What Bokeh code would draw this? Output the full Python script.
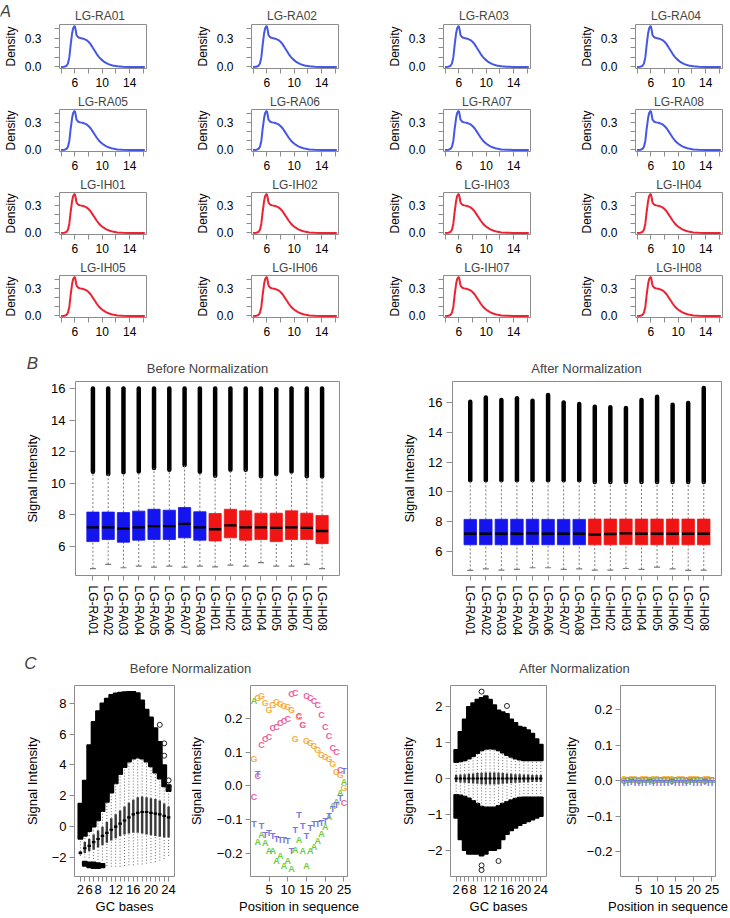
from bokeh.plotting import figure
from bokeh.layouts import column, row
from bokeh.models import FixedTicker, Label, Range1d
from bokeh.embed import file_html
from bokeh.resources import INLINE
from bokeh.core.properties import value

FONT = "Liberation Sans"
AXIS_GRAY = "#8c8c8c"
NAN = float("nan")

# ---------------- Panel A data ----------------
samples = ["LG-RA01", "LG-RA02", "LG-RA03", "LG-RA04", "LG-RA05", "LG-RA06", "LG-RA07", "LG-RA08",
           "LG-IH01", "LG-IH02", "LG-IH03", "LG-IH04", "LG-IH05", "LG-IH06", "LG-IH07", "LG-IH08"]
sample_group = ["RA"] * 8 + ["IH"] * 8
density_x = [4.0, 4.5, 4.8, 5.0, 5.2, 5.4, 5.6, 5.75, 5.9, 6.0, 6.1, 6.25, 6.5, 6.8, 7.1, 7.4, 7.7,
             8.0, 8.3, 8.6, 8.9, 9.2, 9.5, 9.8, 10.2, 10.6, 11.0, 11.5, 12.2, 13.0, 14.0, 15.0, 16.2]
density_y = [0.0, 0.002, 0.012, 0.035, 0.10, 0.235, 0.35, 0.405, 0.425, 0.432, 0.40, 0.335, 0.312,
             0.305, 0.30, 0.293, 0.283, 0.265, 0.24, 0.205, 0.17, 0.135, 0.105, 0.082, 0.058, 0.04,
             0.027, 0.015, 0.006, 0.002, 0.0, 0.0, 0.0]
density_colors = {"RA": "#4657e6", "IH": "#eb2332"}

# ---------------- Panel B data ----------------
box_colors = ["#1414ee"] * 8 + ["#f01414"] * 8
before_q1 = [6.30, 6.43, 6.26, 6.39, 6.43, 6.43, 6.54, 6.39, 6.34, 6.54, 6.39, 6.43, 6.30, 6.43, 6.43, 6.17]
before_med = [7.20, 7.20, 7.12, 7.20, 7.28, 7.28, 7.42, 7.20, 7.08, 7.33, 7.20, 7.20, 7.17, 7.20, 7.17, 6.97]
before_q3 = [8.17, 8.17, 8.14, 8.23, 8.35, 8.29, 8.46, 8.19, 8.08, 8.35, 8.25, 8.10, 8.10, 8.25, 8.10, 7.96]
before_wlo = [4.58, 4.86, 4.64, 4.75, 4.68, 4.75, 4.68, 4.75, 4.70, 4.81, 4.75, 4.97, 4.75, 4.75, 4.86, 4.58]
before_whi = [10.73, 10.59, 10.69, 10.75, 10.96, 10.86, 11.15, 10.73, 10.48, 10.86, 10.86, 10.44, 10.59, 10.75, 10.44, 10.42]
before_max = [16.0, 16.0, 16.0, 16.0, 16.0, 16.0, 16.0, 16.0, 16.0, 16.0, 16.0, 16.0, 15.96, 16.0, 16.0, 16.0]

after_q1 = [6.46, 6.46, 6.46, 6.46, 6.47, 6.46, 6.46, 6.46, 6.46, 6.46, 6.47, 6.46, 6.46, 6.46, 6.46, 6.46]
after_med = [7.20, 7.20, 7.20, 7.20, 7.22, 7.20, 7.20, 7.20, 7.14, 7.18, 7.22, 7.20, 7.20, 7.20, 7.20, 7.20]
after_q3 = [8.16, 8.16, 8.17, 8.17, 8.17, 8.16, 8.16, 8.16, 8.18, 8.18, 8.18, 8.18, 8.18, 8.18, 8.18, 8.18]
after_wlo = [4.74, 4.85, 4.76, 4.81, 4.92, 4.92, 4.81, 4.85, 4.76, 4.76, 4.87, 4.81, 4.96, 4.85, 4.74, 4.76]
after_whi = [10.78, 10.78, 10.78, 10.78, 10.78, 10.78, 10.78, 10.78, 10.67, 10.67, 10.67, 10.67, 10.67, 10.67, 10.67, 10.67]
after_max = [16.04, 16.33, 16.16, 16.27, 16.11, 16.49, 16.0, 15.89, 15.71, 15.67, 15.62, 16.16, 16.38, 15.84, 15.96, 16.96]

# ---------------- Panel C data: GC boxplots ----------------
gc_levels = [2, 4, 6, 7, 8, 9, 10, 11, 12, 13, 14, 15, 16, 17, 18, 19, 20, 21, 22, 23, 24]
gc_labelled = [2, 6, 8, 12, 16, 20, 24]

gcb_q1 = [-1.8, -1.7, -1.6, -1.5, -1.35, -1.2, -1.05, -0.9, -0.75, -0.6, -0.5, -0.45, -0.4, -0.4, -0.45, -0.5, -0.55, -0.6, -0.65, -0.7, -0.7]
gcb_med = [-1.7, -1.4, -1.25, -1.0, -0.8, -0.6, -0.4, -0.2, 0.0, 0.2, 0.4, 0.6, 0.8, 0.9, 0.95, 0.95, 0.9, 0.85, 0.8, 0.7, 0.6]
gcb_q3 = [-1.6, -1.0, -0.8, -0.5, -0.25, 0.0, 0.3, 0.55, 0.8, 1.05, 1.3, 1.55, 1.75, 1.9, 1.95, 1.9, 1.85, 1.8, 1.7, 1.5, 1.3]
gcb_wlo = [-1.9, -2.0, -2.05, -2.1, -2.15, -2.2, -2.55, -2.6, -2.6, -2.6, -2.55, -2.5, -2.5, -2.45, -2.45, -2.4, -2.35, -2.3, -2.2, -2.1, -1.9]
gcb_whi = [-0.8, -0.6, -0.3, 0.0, 0.4, 1.0, 1.6, 2.2, 2.8, 3.4, 3.85, 4.2, 4.4, 4.47, 4.4, 4.2, 3.9, 3.5, 3.1, 2.6, 2.3]
gcb_max = [1.5, 3.0, 5.3, 6.8, 7.5, 8.0, 8.3, 8.55, 8.65, 8.7, 8.73, 8.75, 8.75, 8.66, 8.2, 7.6, 7.1, 6.4, 5.5, 4.0, 2.7]
gcb_lo_top = [NAN, -2.25, -2.3, -2.3, -2.35, -2.4, NAN, NAN, NAN, NAN, NAN, NAN, NAN, NAN, NAN, NAN, NAN, NAN, NAN, NAN, NAN]
gcb_lo_bot = [NAN, -2.55, -2.65, -2.7, -2.7, -2.65, NAN, NAN, NAN, NAN, NAN, NAN, NAN, NAN, NAN, NAN, NAN, NAN, NAN, NAN, NAN]
gcb_iso_level = [22, 23, 23, 24, 24]
gcb_iso_val = [6.6, 5.4, 4.6, 3.0, 2.6]

gca_q1 = [-0.10, -0.11, -0.12, -0.13, -0.14, -0.15, -0.16, -0.17, -0.17, -0.17, -0.16, -0.15, -0.14, -0.13, -0.12, -0.12, -0.11, -0.11, -0.10, -0.10, -0.10]
gca_med = [0.0, 0.0, 0.0, 0.0, 0.0, 0.0, 0.0, 0.0, 0.0, 0.0, 0.0, 0.0, 0.0, 0.0, 0.0, 0.0, 0.0, 0.0, 0.0, 0.0, 0.0]
gca_q3 = [0.10, 0.11, 0.12, 0.13, 0.14, 0.15, 0.16, 0.17, 0.17, 0.17, 0.16, 0.15, 0.14, 0.13, 0.12, 0.12, 0.11, 0.11, 0.10, 0.10, 0.10]
gca_wlo = [-0.45, -0.47, -0.5, -0.55, -0.62, -0.7, -0.78, -0.8, -0.8, -0.8, -0.76, -0.7, -0.65, -0.6, -0.56, -0.53, -0.52, -0.52, -0.52, -0.52, -0.52]
gca_whi = [0.45, 0.47, 0.5, 0.55, 0.62, 0.7, 0.78, 0.82, 0.83, 0.82, 0.78, 0.72, 0.65, 0.6, 0.55, 0.52, 0.5, 0.5, 0.5, 0.5, 0.5]
gca_max = [0.8, 1.3, 1.65, 2.0, 2.1, 2.2, 2.25, 2.3, 2.2, 2.05, 1.9, 1.85, 1.8, 1.65, 1.55, 1.45, 1.42, 1.35, 1.25, 1.1, 0.95]
gca_min = [-1.1, -1.7, -2.0, -2.1, -2.1, -2.1, -2.15, -2.1, -2.0, -2.0, -1.95, -1.7, -1.55, -1.45, -1.38, -1.3, -1.25, -1.2, -1.15, -1.1, -1.05]
gca_iso_level = [10, 10, 10, 14, 16]
gca_iso_val = [2.42, -2.42, -2.55, -2.3, 2.02]

# ---------------- Panel C data: position in sequence ----------------
seq_pos = list(range(1, 26))
A_before = [0.253, -0.166, -0.145, -0.171, -0.192, -0.192, -0.222, -0.207, -0.238, -0.222, -0.248, -0.19, -0.161,
            -0.192, -0.237, -0.194, -0.182, -0.164, -0.143, -0.122, -0.092, -0.061, -0.049, -0.021, 0.013]
C_before = [-0.034, 0.03, 0.12, 0.14, 0.144, 0.171, 0.176, 0.186, 0.193, 0.20, 0.272, 0.277, 0.206, 0.181, 0.268,
            0.26, 0.252, 0.24, 0.211, 0.176, 0.147, 0.112, 0.102, 0.048, -0.051]
G_before = [0.079, 0.26, 0.268, 0.245, 0.226, 0.24, 0.248, 0.242, 0.236, 0.233, 0.226, 0.14, 0.205, 0.18, 0.132,
            0.127, 0.117, 0.107, 0.092, 0.087, 0.08, 0.065, 0.041, 0.033, -0.006]
T_before = [-0.112, 0.035, -0.12, -0.145, -0.141, -0.15, -0.157, -0.16, -0.16, -0.164, -0.192, -0.132, -0.085,
            -0.12, -0.15, -0.125, -0.112, -0.113, -0.11, -0.105, -0.09, -0.07, -0.056, -0.036, 0.043]
A_after = [0.002, 0.003, 0.001, 0.002, 0.003, 0.002, 0.001, 0.002, 0.003, 0.002, 0.002, 0.001, 0.002, 0.003,
           0.002, 0.002, 0.001, 0.003, 0.002, 0.002, 0.001, 0.002, 0.003, 0.002, 0.001]
C_after = [0.000, 0.001, 0.002, 0.001, 0.000, 0.001, 0.002, 0.001, 0.000, 0.001, 0.001, 0.002, 0.001, 0.000,
           0.001, 0.002, 0.001, 0.000, 0.001, 0.001, 0.002, 0.001, 0.000, 0.001, 0.002]
G_after = [0.004, 0.003, 0.004, 0.005, 0.003, 0.004, 0.004, 0.003, 0.005, 0.004, 0.003, 0.004, 0.004, 0.005,
           0.003, 0.004, 0.004, 0.003, 0.004, 0.005, 0.004, 0.003, 0.004, 0.004, 0.003]
T_after = [-0.006, -0.007, -0.005, -0.006, -0.008, -0.006, -0.007, -0.005, -0.006, -0.007, -0.006, -0.008,
           -0.006, -0.005, -0.007, -0.006, -0.006, -0.007, -0.005, -0.006, -0.007, -0.006, -0.005, -0.006, -0.007]
nuc_colors = {"A": "#6ccc3c", "C": "#ee5f9c", "G": "#f4b245", "T": "#7676e0"}

# ---------------- layout geometry (px) ----------------
A_WIDTHS = [192, 192, 192, 153]
A_LEFT = 53
A_FRAME = 93


def style(p, tick_fs, label_fs, tick_out, label_standoff, axis_label_standoff):
    p.outline_line_color = AXIS_GRAY
    p.outline_line_width = 1
    p.xgrid.grid_line_color = None
    p.ygrid.grid_line_color = None
    for ax in p.axis:
        ax.axis_line_color = None
        ax.major_tick_line_color = AXIS_GRAY
        ax.minor_tick_line_color = AXIS_GRAY
        ax.major_tick_out = tick_out
        ax.major_tick_in = 0
        ax.minor_tick_out = tick_out
        ax.minor_tick_in = 0
        ax.major_label_text_font = FONT
        ax.major_label_text_font_size = tick_fs
        ax.major_label_text_color = "black"
        ax.major_label_standoff = label_standoff
        ax.axis_label_text_font = FONT
        ax.axis_label_text_font_size = label_fs
        ax.axis_label_text_font_style = "normal"
        ax.axis_label_text_color = "black"
        ax.axis_label_standoff = axis_label_standoff


def strip_fig(width, height, items):
    s = figure(width=width, height=height, x_range=Range1d(0, width), y_range=Range1d(0, height),
               toolbar_location=None, output_backend="svg", min_border=0,
               x_axis_location=None, y_axis_location=None)
    s.outline_line_color = None
    s.xgrid.grid_line_color = None
    s.ygrid.grid_line_color = None
    for x, y, txt, fs, fstyle in items:
        s.add_layout(Label(x=x, y=y, text=txt, text_font=FONT, text_font_size=fs, text_font_style=fstyle,
                           text_align="center", text_baseline="middle"))
    return s


def density_fig(idx, width, with_title):
    kw = dict(title=samples[idx]) if with_title else {}
    p = figure(width=width, height=83 if with_title else 69,
               x_range=Range1d(3.77, 16.45), y_range=Range1d(-0.017, 0.447),
               toolbar_location=None, output_backend="svg",
               min_border_left=A_LEFT, min_border_right=width - A_LEFT - A_FRAME,
               min_border_top=16 if with_title else 2, min_border_bottom=23, **kw)
    p.line(density_x, density_y, line_color=density_colors[sample_group[idx]], line_width=2)
    p.xaxis.ticker = FixedTicker(ticks=[6, 10, 14], minor_ticks=[4, 8, 12, 16])
    p.yaxis.ticker = FixedTicker(ticks=[0, 0.3], minor_ticks=[0.1, 0.2, 0.4])
    p.yaxis.major_label_overrides = {0: "0.0", 0.3: "0.3"}
    p.yaxis.axis_label = "Density"
    style(p, "12px", "12px", 5, 13, 4)
    p.xaxis.major_label_standoff = 4
    if with_title:
        p.title.text_font = FONT
        p.title.text_font_size = "12px"
        p.title.text_font_style = "normal"
        p.title.align = "center"
        p.title.standoff = 2
    return p


# header strip for panel A (letter + first-row titles)
a_items = [(5, 11, "A", "17px", "italic")]
x0 = 0
for c in range(4):
    a_items.append((x0 + A_LEFT + A_FRAME / 2, 7, samples[c], "12px", "normal"))
    x0 += A_WIDTHS[c]
strip_a = strip_fig(sum(A_WIDTHS), 22, a_items)

a_rows = []
for r in range(4):
    figs = [density_fig(4 * r + c, A_WIDTHS[c], r > 0) for c in range(4)]
    a_rows.append(row(*figs))


def box_fig(q1, med, q3, wlo, whi, vmax, ylim, width, bl, br):
    pos = list(range(1, len(samples) + 1))
    p = figure(width=width, height=265, x_range=Range1d(-0.14, 17.14), y_range=Range1d(*ylim),
               toolbar_location=None, output_backend="svg",
               min_border_left=bl, min_border_right=br, min_border_top=3, min_border_bottom=68)
    p.segment(pos, whi, pos, vmax, line_color="black", line_width=4.5, line_cap="round")
    p.segment(pos, q3, pos, whi, line_color="#7a7a7a", line_dash="2 2", line_width=1)
    p.segment(pos, wlo, pos, q1, line_color="#7a7a7a", line_dash="2 2", line_width=1)
    p.scatter(pos, wlo, marker="dash", size=6, line_color="#7a7a7a", line_width=1.2)
    p.vbar(x=pos, width=0.8, bottom=q1, top=q3, fill_color=box_colors, line_color=box_colors, line_width=0.8)
    p.rect(x=pos, y=med, width=0.8, height=2.4, height_units="screen", fill_color="black", line_color=None)
    p.xaxis.ticker = FixedTicker(ticks=pos)
    p.xaxis.major_label_overrides = {i + 1: s for i, s in enumerate(samples)}
    p.xaxis.major_label_orientation = "vertical"
    p.yaxis.ticker = FixedTicker(ticks=[6, 8, 10, 12, 14, 16])
    p.yaxis.axis_label = "Signal Intensity"
    style(p, "13px", "13px", 6, 4, 8)
    p.xaxis.major_label_text_font_size = "12px"
    p.xaxis.major_tick_out = 5
    p.xaxis.major_label_standoff = 5
    return p


strip_b = strip_fig(729, 38, [(32, 15, "B", "17px", "italic"),
                              (207, 10, "Before Normalization", "13px", "normal"),
                              (586, 10, "After Normalization", "13px", "normal")])
b_left = box_fig(before_q1, before_med, before_q3, before_wlo, before_whi, before_max,
                 (4.15, 16.45), 382, 75, 43)
b_right = box_fig(after_q1, after_med, after_q3, after_wlo, after_whi, after_max,
                  (4.4, 17.4), 347, 70, 8)

strip_c = strip_fig(729, 35, [(30, 15, "C", "17px", "italic"),
                              (190, 10, "Before Normalization", "13px", "normal"),
                              (574, 10, "After Normalization", "13px", "normal")])


def gc_fig(q1, med, q3, wlo, whi, vmax, lo_top, lo_bot, iso_lvl, iso_val, ylim, yticks, width, bl, br, als):
    pos = list(range(1, len(gc_levels) + 1))
    p = figure(width=width, height=238, x_range=Range1d(-0.34, len(gc_levels) + 1.34), y_range=Range1d(*ylim),
               toolbar_location=None, output_backend="svg",
               min_border_left=bl, min_border_right=br, min_border_top=7, min_border_bottom=40)
    p.vbar(x=pos, width=1.0, bottom=whi, top=vmax, fill_color="black", line_color="black", line_width=1.5)
    p.vbar(x=pos, width=1.0, bottom=lo_bot, top=lo_top, fill_color="black", line_color="black", line_width=1.5)
    p.segment(pos, q3, pos, whi, line_color="#6a6a6a", line_dash="1 2", line_width=1)
    p.segment(pos, wlo, pos, q1, line_color="#6a6a6a", line_dash="1 2", line_width=1)
    p.vbar(x=pos, width=0.55, bottom=q1, top=q3, fill_color="#3a3a3a", line_color=None)
    p.rect(x=pos, y=med, width=0.8, height=2.2, height_units="screen", fill_color="black", line_color=None)
    iso_pos = [gc_levels.index(l) + 1 for l in iso_lvl]
    p.scatter(iso_pos, iso_val, marker="circle", size=5, fill_color=None, line_color="#222222", line_width=1)
    major = [gc_levels.index(l) + 1 for l in gc_labelled]
    p.xaxis.ticker = FixedTicker(ticks=major, minor_ticks=[i for i in pos if i not in major])
    p.xaxis.major_label_overrides = {gc_levels.index(l) + 1: str(l) for l in gc_labelled}
    p.xaxis.axis_label = "GC bases"
    p.yaxis.ticker = FixedTicker(ticks=yticks)
    p.yaxis.major_label_overrides = {t: ("\u2212" + str(abs(t)) if t < 0 else str(t)) for t in yticks}
    p.yaxis.axis_label = "Signal Intensity"
    style(p, "13px", "13px", 5, 3, als)
    p.xaxis.axis_label_standoff = 2
    return p


def seq_fig(series, ylim, width, bl, br, als):
    p = figure(width=width, height=238, x_range=Range1d(0.04, 25.96), y_range=Range1d(*ylim),
               toolbar_location=None, output_backend="svg",
               min_border_left=bl, min_border_right=br, min_border_top=7, min_border_bottom=40)
    for nuc, vals in series:
        p.text(x=seq_pos, y=vals, text=value(nuc), text_color=nuc_colors[nuc], text_font=value(FONT),
               text_font_size="9px", text_font_style="bold", text_align="center", text_baseline="middle")
    p.xaxis.ticker = FixedTicker(ticks=[5, 10, 15, 20, 25])
    p.xaxis.axis_label = "Position in sequence"
    p.yaxis.ticker = FixedTicker(ticks=[-0.2, -0.1, 0.0, 0.1, 0.2])
    p.yaxis.major_label_overrides = {-0.2: "\u22120.2", -0.1: "\u22120.1", 0.0: "0.0", 0.1: "0.1", 0.2: "0.2"}
    p.yaxis.axis_label = "Signal Intensity"
    style(p, "13px", "13px", 5, 3, als)
    p.xaxis.axis_label_standoff = 2
    return p


c1 = gc_fig(gcb_q1, gcb_med, gcb_q3, gcb_wlo, gcb_whi, gcb_max, gcb_lo_top, gcb_lo_bot,
            gcb_iso_level, gcb_iso_val, (-3.23, 9.15), [-2, 0, 2, 4, 6, 8], 185, 74, 11, 9)
c2 = seq_fig([("G", G_before), ("C", C_before), ("A", A_before), ("T", T_before)],
             (-0.269, 0.298), 212, 62, 50, 10)
c3 = gc_fig(gca_q1, gca_med, gca_q3, gca_wlo, gca_whi, gca_max, gca_wlo, gca_min,
            gca_iso_level, gca_iso_val, (-2.73, 2.59), [-2, -1, 0, 1, 2], 163, 52, 14, 9)
c4 = seq_fig([("G", G_after), ("C", C_after), ("A", A_after), ("T", T_after)],
             (-0.27, 0.268), 170, 58, 15, 5)

layout = column(strip_a, *a_rows, strip_b, row(b_left, b_right), strip_c, row(c1, c2, c3, c4))

open("out.html", "w").write(file_html(layout, INLINE))
